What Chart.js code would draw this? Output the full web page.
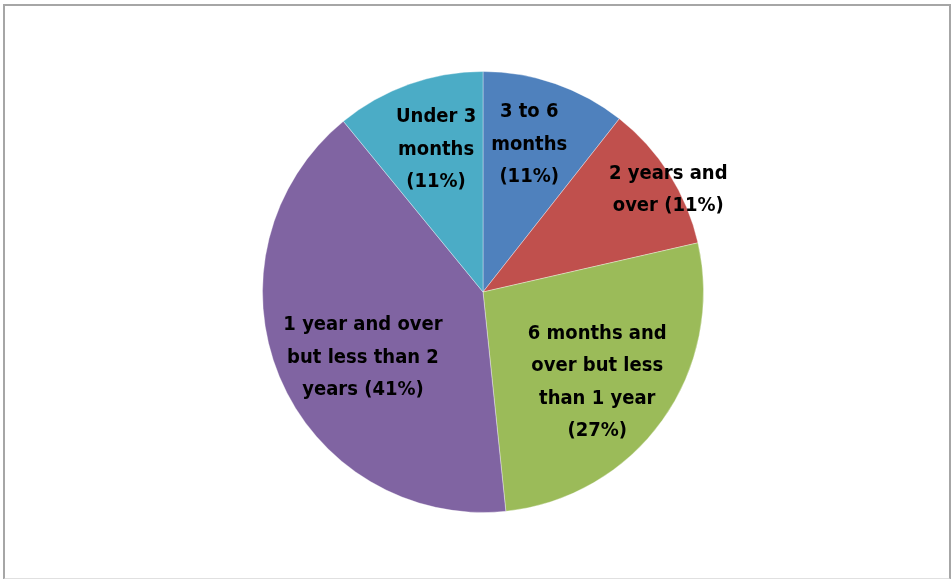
<!DOCTYPE html>
<html>
<head>
<meta charset="utf-8">
<script src="https://cdn.jsdelivr.net/npm/chart.js@4/dist/chart.umd.min.js"></script>
<style>
  body { margin: 0; background: #fff; }
  #wrap { position: relative; width: 952px; height: 579px; }
  #frame { position: absolute; left: 3px; top: 4px; width: 944px; height: 572px; border: 2px solid #a6a6a6; border-bottom-color: #e0e0e0; pointer-events: none; }
</style>
</head>
<body>
<div id="wrap">
  <canvas id="myChart" width="952" height="579"></canvas>
  <div id="frame"></div>
</div>
<script>
var categories = ["3 to 6 months", "2 years and over", "6 months and over but less than 1 year", "1 year and over but less than 2 years", "Under 3 months"];
var shares = [10.6, 10.8, 26.9, 40.7, 10.9];
var labelText = [
  ["3 to 6", "months", "(11%)"],
  ["2 years and", "over (11%)"],
  ["6 months and", "over but less", "than 1 year", "(27%)"],
  ["1 year and over", "but less than 2", "years (41%)"],
  ["Under 3", "months", "(11%)"]
];
var sliceColors = ["#4f81bd", "#c0504d", "#9bbb59", "#8064a2", "#4bacc6"];

// label spot: fraction of radius + small angle nudge (deg) from slice middle
var labelRadius = [0.70, 0.96, 0.66, 0.62, 0.68];
var labelTurn = [-1.7, 3.4, 2.7, -6, 1.4];

var sliceLabels = {
  id: "sliceLabels",
  afterDatasetsDraw: function(chart) {
    var ctx = chart.ctx;
    var arcs = chart.getDatasetMeta(0).data;
    ctx.save();
    ctx.font = "bold 20px 'Liberation Sans Narrow', 'DejaVu Sans Condensed', sans-serif";
    ctx.fillStyle = "#000";
    ctx.textAlign = "center";
    ctx.textBaseline = "middle";
    arcs.forEach(function(arc, i) {
      var mid = (arc.startAngle + arc.endAngle) / 2 + labelTurn[i] * Math.PI / 180;
      var r = arc.outerRadius * labelRadius[i];
      var x = arc.x + Math.cos(mid) * r;
      var y = arc.y + Math.sin(mid) * r;
      var lines = labelText[i];
      var lh = 32.5;
      var y0 = y - (lines.length - 1) * lh / 2;
      lines.forEach(function(t, k) {
        ctx.fillText(t, x, y0 + k * lh);
      });
    });
    ctx.restore();
  }
};

new Chart("myChart", {
  type: "pie",
  data: {
    labels: categories,
    datasets: [{
      data: shares,
      backgroundColor: sliceColors,
      borderColor: "rgba(255,255,255,0.35)",
      borderWidth: 1
    }]
  },
  options: {
    responsive: false,
    animation: false,
    layout: { padding: { left: 262, right: 248, top: 71, bottom: 66 } },
    plugins: {
      legend: { display: false },
      tooltip: { enabled: false }
    }
  },
  plugins: [sliceLabels]
});
</script>
</body>
</html>
